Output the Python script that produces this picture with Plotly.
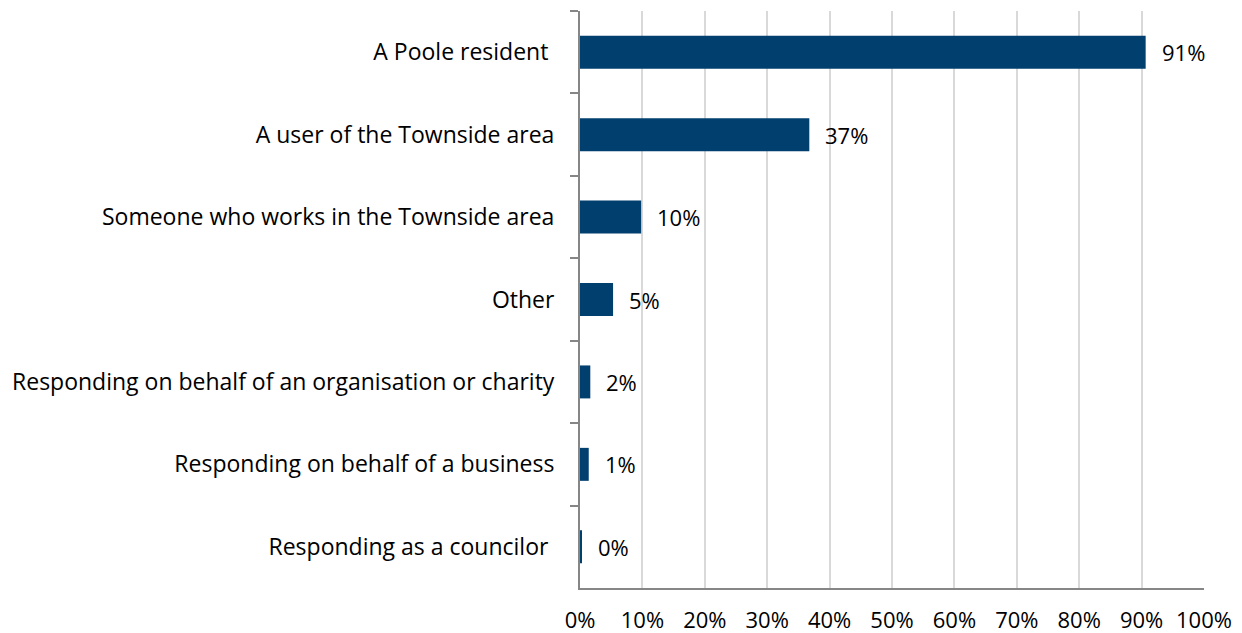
import plotly.graph_objects as go

categories = [
    "A Poole resident\u00a0",
    "A user of the Townside area",
    "Someone who works in the Townside area",
    "Other",
    "Responding on behalf of an organisation or charity",
    "Responding on behalf of a business",
    "Responding as a councilor\u00a0",
]
values = [90.65, 36.75, 9.8, 5.3, 1.65, 1.4, 0.3]
value_labels = ["91%", "37%", "10%", "5%", "2%", "1%", "0%"]
x_ticks = [0, 10, 20, 30, 40, 50, 60, 70, 80, 90, 100]
x_tick_labels = [f"{t}%" for t in x_ticks]

FONT = "Open Sans"
FS_CAT = 23
FS_NUM = 22

fig = go.Figure(
    go.Bar(
        x=values,
        y=categories,
        orientation="h",
        marker=dict(color="#003f6e", line=dict(width=0)),
        hoverinfo="skip",
    )
)

for v, lab, cat in zip(values, value_labels, categories):
    fig.add_annotation(
        x=v, y=cat, text=lab, showarrow=False,
        xanchor="left", xshift=14,
        font=dict(family=FONT, size=FS_NUM, color="#000000"),
    )

fig.update_layout(
    width=1234, height=625,
    margin=dict(l=572, r=38, t=3, b=45, autoexpand=False),
    paper_bgcolor="white", plot_bgcolor="white",
    bargap=0.6,
    showlegend=False,
    font=dict(family=FONT, size=FS_CAT, color="#000000"),
)
fig.update_xaxes(
    range=[0, 100], tickvals=x_ticks, ticktext=x_tick_labels,
    showgrid=True, gridcolor="#d9d9d9", gridwidth=1.5,
    showline=True, linecolor="#868686", linewidth=2,
    ticks="", ticklabelstandoff=12, zeroline=False,
    tickfont=dict(family=FONT, size=FS_NUM, color="#000000"),
)
fig.update_yaxes(
    autorange="reversed", tickson="boundaries",
    ticks="outside", ticklen=8, tickcolor="#868686", tickwidth=2,
    showline=True, linecolor="#868686", linewidth=2,
    showgrid=False, ticklabelstandoff=19,
    tickfont=dict(family=FONT, size=FS_CAT, color="#000000"),
)

fig.write_html("out.html")
